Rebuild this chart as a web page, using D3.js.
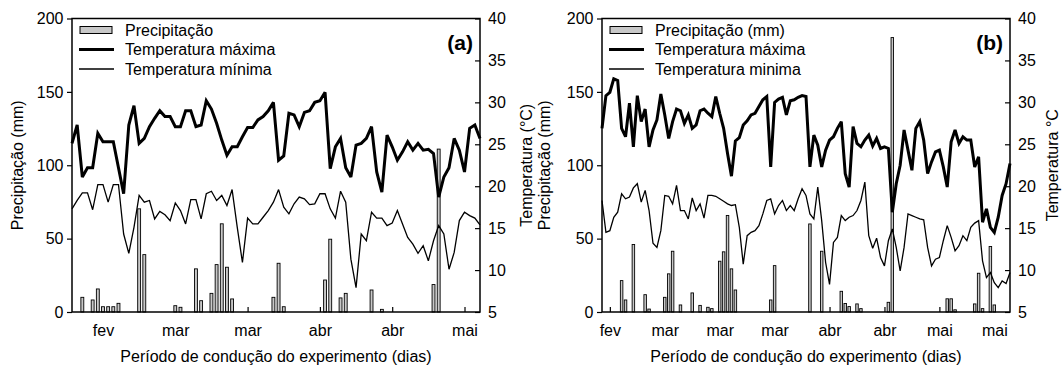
<!DOCTYPE html>
<html>
<head>
<meta charset="utf-8">
<script src="https://cdn.jsdelivr.net/npm/d3@7"></script>
<style>
  html, body { margin: 0; padding: 0; background: #fff; }
  svg text { font-family: "Liberation Sans", Arial, sans-serif; }
</style>
</head>
<body>
<svg id="chart" width="1062" height="366"></svg>
<script>
// ---- Panel (a): daily values, one entry per day ----
const precipA = [
  0, 0, 10.0, 0, 8.2, 15.7, 3.6, 3.6, 3.6, 5.9,
  0, 0, 0, 70.3, 39.1, 0, 0, 0, 0, 0,
  4.3, 3.2, 0, 0, 29.4, 7.7, 0, 12.7, 32.3, 60.1,
  30.5, 8.9, 0, 0, 0, 0, 0, 0, 0, 10.0,
  33.2, 3.6, 0, 0, 0, 0, 0, 0, 0, 21.8,
  49.6, 0, 9.6, 12.7, 0, 0, 0, 0, 15.0, 0,
  1.8, 0, 0, 0, 0, 0, 0, 0, 0, 0,
  18.7, 111.0, 0, 0, 0, 0, 0, 0, 0, 0
];
const tmaxA = [
  25.1, 27.3, 21.1, 22.2, 22.2, 26.3, 25.3, 25.3, 25.3, 22.2,
  19.1, 27.3, 29.6, 25.1, 25.7, 27.1, 28.1, 29.0, 28.3, 28.3,
  27.1, 27.1, 29.0, 29.0, 27.1, 27.3, 30.2, 29.2, 27.5, 25.5,
  23.7, 24.7, 24.7, 25.9, 27.0, 27.0, 27.9, 28.3, 29.0, 30.0,
  23.1, 23.6, 28.7, 28.5, 27.1, 28.8, 29.0, 30.0, 30.2, 31.2,
  22.1, 24.7, 25.7, 22.2, 21.1, 24.9, 25.1, 25.7, 27.1, 21.7,
  19.3, 26.1, 24.7, 23.1, 24.1, 25.3, 24.3, 25.1, 24.3, 24.4,
  23.9, 18.7, 21.1, 22.2, 25.7, 24.3, 21.7, 26.9, 27.3, 25.7
];
const tminA = [
  17.3, 18.3, 19.2, 19.2, 17.2, 20.2, 20.2, 18.1, 20.2, 20.2,
  14.3, 12.0, 15.1, 18.9, 18.1, 18.3, 16.1, 17.0, 16.6, 15.9,
  18.0, 17.1, 15.5, 18.4, 18.4, 16.1, 19.1, 19.4, 18.3, 18.9,
  17.7, 19.6, 15.1, 10.9, 16.2, 15.5, 15.5, 16.3, 17.1, 18.1,
  19.6, 17.5, 16.7, 17.9, 18.7, 18.5, 17.8, 17.9, 19.1, 19.1,
  17.3, 16.2, 19.4, 18.1, 11.3, 7.9, 14.3, 13.5, 16.9, 16.2,
  16.2, 15.3, 15.6, 17.1, 15.5, 13.9, 13.1, 12.0, 12.9, 11.1,
  13.5, 15.3, 14.3, 10.1, 12.1, 15.9, 16.9, 16.5, 16.2, 15.4
];
const tickDaysA = [6, 20, 34, 48, 62, 76];
const tickLabelsA = ["fev", "mar", "mar", "abr", "abr", "mai"];
const legendA = ["Precipitação", "Temperatura máxima", "Temperatura mínima"];

// ---- Panel (b): daily values, one entry per day ----
const precipB = [
  0, 0, 0, 0, 0, 21.4, 8.2, 0, 46.0, 0,
  0, 11.8, 2.0, 0, 0, 0, 10.0, 26.0, 41.4, 0,
  4.8, 0, 0, 13.0, 0, 4.5, 0, 3.2, 2.3, 0,
  34.6, 41.0, 65.8, 29.4, 15.0, 0, 0, 0, 0, 0,
  0, 0, 0, 8.2, 31.6, 0, 0, 0, 0, 0,
  0, 0, 0, 60.0, 0, 0, 41.4, 0, 0, 0,
  0, 14.1, 5.8, 3.7, 0, 5.5, 2.3, 0, 0, 0,
  0, 0, 0, 6.6, 187.0, 0, 0, 0, 0, 0,
  0, 0, 0, 0, 0, 0, 0, 0, 9.0, 9.0,
  1.5, 0, 0, 0, 0, 5.5, 26.4, 2.3, 0, 44.6,
  4.8, 0, 0, 0, 0
];
const tmaxB = [
  26.9, 30.8, 31.2, 32.8, 32.6, 26.9, 25.9, 29.9, 24.7, 30.8,
  27.7, 29.2, 24.7, 26.7, 27.9, 31.0, 28.5, 25.7, 27.7, 29.2,
  29.0, 27.5, 28.5, 26.9, 27.3, 29.0, 29.2, 28.7, 28.3, 30.7,
  28.7, 26.9, 23.9, 21.2, 25.4, 25.8, 27.3, 27.8, 28.5, 28.7,
  29.5, 30.3, 30.7, 22.3, 30.0, 30.4, 30.6, 28.5, 30.2, 30.3,
  30.6, 30.8, 30.7, 22.3, 26.1, 24.9, 22.3, 24.3, 25.5, 25.9,
  26.9, 27.7, 21.5, 19.9, 27.1, 25.1, 24.7, 25.5, 26.1, 24.8,
  25.7, 24.5, 24.7, 24.5, 16.9, 20.3, 22.5, 26.7, 24.3, 21.9,
  26.9, 27.7, 25.5, 21.5, 22.9, 24.1, 24.3, 22.3, 19.9, 25.3,
  26.7, 25.1, 25.9, 25.5, 25.5, 22.3, 23.5, 15.7, 17.3, 15.1,
  14.5, 16.3, 18.9, 20.3, 22.7
];
const tminB = [
  18.3, 14.5, 14.7, 16.3, 16.9, 19.1, 18.5, 18.7, 19.8, 20.3,
  18.1, 19.5, 17.1, 13.2, 12.7, 14.7, 18.9, 18.8, 17.9, 20.1,
  17.1, 17.1, 16.1, 18.6, 17.1, 17.9, 16.2, 18.9, 18.9, 18.8,
  18.5, 18.2, 17.9, 17.7, 17.8, 15.1, 10.7, 14.1, 14.5, 14.7,
  15.3, 16.7, 18.3, 18.5, 16.7, 17.7, 18.3, 17.1, 17.7, 17.1,
  18.5, 19.7, 18.9, 16.7, 16.1, 19.9, 15.9, 10.9, 8.3, 13.3,
  13.9, 16.5, 15.9, 16.3, 16.5, 17.1, 18.3, 20.5, 14.1, 12.6,
  13.8, 11.5, 10.5, 13.5, 14.9, 12.7, 9.9, 12.7, 16.7, 16.5,
  16.3, 16.1, 16.0, 12.7, 10.5, 11.3, 11.5, 13.5, 15.3, 13.9,
  12.3, 12.9, 14.1, 13.5, 15.1, 15.6, 15.9, 11.1, 9.1, 9.7,
  8.5, 7.9, 8.7, 8.4, 9.7
];
const tickDaysB = [2, 16, 30, 44, 58, 72, 86, 100];
const tickLabelsB = ["fev", "mar", "mar", "mar", "abr", "abr", "mai", "mai"];
const legendB = ["Precipitação (mm)", "Temperatura máxima", "Temperatura minima"];

// ---- Shared axis ticks and titles ----
const precipTicks = [0, 50, 100, 150, 200];
const tempTicks = [5, 10, 15, 20, 25, 30, 35, 40];
const xTitle = "Período de condução do experimento (dias)";

// ---- Layout ----
const svg = d3.select("#chart");
const TOP = 18.5, W = 408, H = 293.5;
const FONT = "16px";
const BAR_FILL = "#c8c8c8";

function drawPanel(opt) {
  const g = svg.append("g").attr("transform", `translate(${opt.left},${TOP})`);
  const n = opt.precip.length;
  const x = d3.scaleLinear().domain([0, n - 1]).range([0, W]);
  const yP = d3.scaleLinear().domain([0, 200]).range([H, 0]);
  const yT = d3.scaleLinear().domain([5, 40]).range([H, 0]);

  // axes
  const ax = [
    g.append("g").attr("transform", `translate(0,${H})`)
      .call(d3.axisBottom(x).tickValues(opt.tickDays)
        .tickFormat((d, i) => opt.tickLabels[i])
        .tickSizeInner(-5).tickSizeOuter(0).tickPadding(13)),
    g.append("g")
      .call(d3.axisLeft(yP).tickValues(precipTicks)
        .tickSizeInner(5).tickSizeOuter(0).tickPadding(3.5)),
    g.append("g").attr("transform", `translate(${W},0)`)
      .call(d3.axisRight(yT).tickValues(tempTicks)
        .tickSizeInner(-5).tickSizeOuter(0).tickPadding(8))
  ];
  ax.forEach(a => {
    a.select(".domain").remove();
    a.selectAll("line").attr("stroke", "#000").attr("stroke-width", 1.2);
    a.selectAll("text").attr("fill", "#000")
      .style("font-size", FONT)
      .style("font-family", '"Liberation Sans", Arial, sans-serif');
  });

  // precipitation bars
  const days = d3.range(n).filter(d => opt.precip[d] > 0);
  g.append("g").selectAll("rect").data(days).join("rect")
    .attr("x", d => x(d) - opt.barW / 2)
    .attr("y", d => yP(opt.precip[d]))
    .attr("width", opt.barW)
    .attr("height", d => H - yP(opt.precip[d]))
    .attr("fill", BAR_FILL)
    .attr("stroke", "#000")
    .attr("stroke-width", 0.9);

  // temperature lines
  const line = d3.line().x((d, i) => x(i)).y(d => yT(d));
  g.append("path").datum(opt.tmax).attr("d", line)
    .attr("fill", "none").attr("stroke", "#000").attr("stroke-width", 3)
    .attr("stroke-linejoin", "miter").attr("stroke-miterlimit", 3);
  g.append("path").datum(opt.tmin).attr("d", line)
    .attr("fill", "none").attr("stroke", "#000").attr("stroke-width", 1.3)
    .attr("stroke-linejoin", "miter").attr("stroke-miterlimit", 3);

  // frame
  g.append("rect").attr("x", 0).attr("y", 0).attr("width", W).attr("height", H)
    .attr("fill", "none").attr("stroke", "#000").attr("stroke-width", 1.5);

  // legend
  const rows = [11.5, 31, 50.5];
  const lg = g.append("g").attr("transform", "translate(8,0)");
  lg.append("rect").attr("x", 0).attr("y", rows[0] - 3.5).attr("width", 32).attr("height", 7)
    .attr("fill", BAR_FILL).attr("stroke", "#000").attr("stroke-width", 1);
  lg.append("line").attr("x1", -1).attr("x2", 34).attr("y1", rows[1]).attr("y2", rows[1])
    .attr("stroke", "#000").attr("stroke-width", 3);
  lg.append("line").attr("x1", -1).attr("x2", 34).attr("y1", rows[2]).attr("y2", rows[2])
    .attr("stroke", "#000").attr("stroke-width", 1.3);
  lg.selectAll("text.lg").data(opt.legend).join("text")
    .attr("x", 45).attr("y", (d, i) => rows[i] + 5.6)
    .style("font-size", FONT).text(d => d);

  // panel tag
  g.append("text").attr("x", W - 7).attr("y", 31).attr("text-anchor", "end")
    .style("font-size", "21px").style("font-weight", "bold").text(opt.tag);

  // x title
  g.append("text").attr("x", W / 2).attr("y", 343.5).attr("text-anchor", "middle")
    .style("font-size", FONT).text(xTitle);

  // rotated y titles
  opt.yTitles.forEach(t => {
    svg.append("text")
      .attr("transform", `translate(${t.x},${TOP + H / 2}) rotate(-90)`)
      .attr("text-anchor", "middle")
      .style("font-size", FONT).text(t.text);
  });
}

drawPanel({
  left: 72, precip: precipA, tmax: tmaxA, tmin: tminA,
  tickDays: tickDaysA, tickLabels: tickLabelsA, legend: legendA, tag: "(a)", barW: 2.9,
  yTitles: [{ x: 23.3, text: "Precipitação (mm)" }, { x: 531.6, text: "Temperatura (°C)" }]
});
drawPanel({
  left: 602, precip: precipB, tmax: tmaxB, tmin: tminB,
  tickDays: tickDaysB, tickLabels: tickLabelsB, legend: legendB, tag: "(b)", barW: 2.5,
  yTitles: [{ x: 550, text: "Precipitação (mm)" }, { x: 1058, text: "Temperatura °C" }]
});
</script>
</body>
</html>
